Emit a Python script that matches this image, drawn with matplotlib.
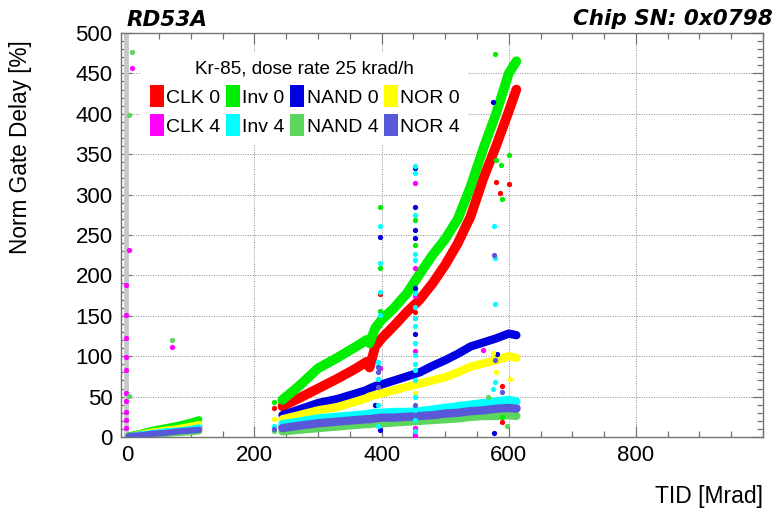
import numpy as np
import matplotlib
matplotlib.use("Agg")
import matplotlib.pyplot as plt
from matplotlib.patches import Patch
from matplotlib.ticker import MultipleLocator, FixedLocator

plt.rcParams['font.family'] = ['Liberation Sans', 'DejaVu Sans']

# ---------------- data ----------------
series_names = ["CLK 0", "Inv 0", "NAND 0", "NOR 0", "CLK 4", "Inv 4", "NAND 4", "NOR 4"]
series_colors = ["#ff0000", "#00ee00", "#0000e0", "#ffff00", "#ff00ff", "#00ffff", "#5cd65c", "#5858d8"]

x_ticks = [0, 200, 400, 600, 800]

tid_early = [2, 20, 40, 60, 80, 100, 113]
tid_main = [244, 270, 300, 330, 360, 376, 381, 390, 400, 420, 440, 460, 480, 500, 520, 540, 560, 580, 600, 612]

clk0_early = [1, 3, 5, 7, 9, 11, 12]
inv0_early = [2, 5, 9, 12, 15, 19, 22]
nand0_early = [1, 3, 6, 8, 10, 12, 14]
nor0_early = [1, 4, 7, 9, 11, 14, 16]
clk4_early = [1, 3, 4, 6, 7, 9, 10]
inv4_early = [1, 3, 5, 7, 8, 10, 12]
nand4_early = [0, 1, 3, 4, 5, 6, 7]
nor4_early = [1, 2, 4, 5, 7, 8, 9]

clk0_main = [38, 48, 60, 72, 85, 93, 86, 112, 122, 138, 155, 170, 190, 213, 240, 273, 320, 360, 403, 430]
inv0_main = [46, 63, 85, 98, 112, 120, 116, 135, 145, 160, 178, 202, 225, 245, 270, 310, 357, 400, 450, 465]
nand0_main = [27, 34, 42, 47, 54, 58, 60, 63, 65, 70, 75, 80, 88, 95, 103, 112, 117, 122, 128, 126]
nor0_main = [22, 27, 33, 37, 44, 48, 50, 52, 54, 58, 62, 66, 70, 74, 80, 87, 91, 95, 100, 98]
clk4_main = [12, 14, 17, 19, 21, 22, 23, 24, 24, 25, 26, 27, 28, 30, 31, 33, 34, 35, 37, 36]
inv4_main = [16, 19, 23, 25, 27, 28, 29, 30, 30, 31, 31, 32, 34, 36, 38, 40, 42, 44, 46, 44]
nand4_main = [7, 9, 11, 13, 15, 16, 16, 17, 17, 18, 19, 20, 21, 22, 23, 25, 26, 26, 27, 26]
nor4_main = [11, 14, 17, 19, 21, 22, 22, 23, 24, 24, 25, 26, 27, 29, 30, 32, 33, 35, 36, 35]

# isolated points (outliers)
clk0_out_x = [231, 398, 452, 452, 580, 601, 586, 590, 590]
clk0_out_y = [36, 177, 147, 155, 316, 313, 302, 63, 18]
inv0_out_x = [231, 398, 398, 398, 452, 452, 452, 580, 588, 590, 601, 578, 590]
inv0_out_y = [43, 285, 209, 156, 268, 238, 180, 343, 337, 295, 349, 474, 25]
nand0_out_x = [398, 389, 398, 452, 452, 452, 452, 452, 452, 575, 582, 577]
nand0_out_y = [248, 40, 9, 333, 285, 256, 246, 184, 128, 414, 103, 5]
nor0_out_x = [231, 576, 580, 602, 452]
nor0_out_y = [22, 104, 80, 72, 55]
clk4_out_x = [3, -2, -2, -2, -2, -2, -2, -2, -2, -2, -2, 8, 70, 452, 452, 452, 452, 452, 452, 398, 559]
clk4_out_y = [231, 188, 151, 122, 99, 83, 54, 44, 31, 21, 11, 457, 112, 314, 209, 174, 106, 11, 2, 85, 108]
inv4_out_x = [231, 398, 398, 398, 398, 394, 394, 394, 394, 394,
              452, 452, 452, 452, 452, 452, 452, 452, 452, 452, 452, 452, 452, 452, 452, 452, 452, 452,
              577, 579, 579, 578, 576]
inv4_out_y = [13, 261, 215, 179, 151, 93, 88, 72, 40, 13,
              335, 327, 275, 227, 219, 178, 161, 147, 137, 116, 101, 90, 83, 70, 50, 33, 21, 8,
              261, 222, 165, 68, 59]
nand4_out_x = [231, 8, 3, 3, 70, 568, 598]
nand4_out_y = [7, 477, 398, 51, 120, 49, 14]
nor4_out_x = [231, 394, 394, 394, 577, 578, 590, 452]
nor4_out_y = [10, 87, 80, 62, 225, 95, 56, 40]

early = [clk0_early, inv0_early, nand0_early, nor0_early, clk4_early, inv4_early, nand4_early, nor4_early]
main = [clk0_main, inv0_main, nand0_main, nor0_main, clk4_main, inv4_main, nand4_main, nor4_main]
outs = [(clk0_out_x, clk0_out_y), (inv0_out_x, inv0_out_y), (nand0_out_x, nand0_out_y),
        (nor0_out_x, nor0_out_y), (clk4_out_x, clk4_out_y), (inv4_out_x, inv4_out_y),
        (nand4_out_x, nand4_out_y), (nor4_out_x, nor4_out_y)]

# ---------------- figure ----------------
fig = plt.figure(figsize=(7.8, 5.12), dpi=100)
L, R, B, T = 121, 763, 437, 33
W, H = 780, 512
ax = fig.add_axes([L / W, 1 - B / H, (R - L) / W, (B - T) / H])

ax.set_xlim(-10, 1000)
ax.set_ylim(0, 500)

ax.axvline(-1.5, color="#c8c8c8", lw=3.5, zorder=1)

main_lw = [7, 7, 6, 6, 6, 6, 6, 6]
for i, name in enumerate(series_names):
    c = series_colors[i]
    ax.plot(tid_early, early[i], color=c, lw=4.5, solid_capstyle="round", solid_joinstyle="round", zorder=3 + i * 0.1)
    ax.plot(tid_main, main[i], color=c, lw=main_lw[i], solid_capstyle="round", solid_joinstyle="round", zorder=3 + i * 0.1)
    ox, oy = outs[i]
    ax.plot(ox, oy, ls="none", marker="o", ms=3.8, mec="none", mfc=c, zorder=4 + i * 0.1)

# axes style (ROOT-like)
gray = "0.45"
for s in ax.spines.values():
    s.set_color(gray)
    s.set_linewidth(1.0)
ax.xaxis.set_major_locator(FixedLocator(x_ticks))
ax.xaxis.set_minor_locator(MultipleLocator(50))
ax.yaxis.set_major_locator(MultipleLocator(50))
ax.yaxis.set_minor_locator(MultipleLocator(10))
ax.tick_params(which="both", direction="in", top=True, right=True, color=gray, width=0.9)
ax.tick_params(which="major", length=8, labelsize=16, pad=6)
ax.tick_params(which="minor", length=4.5)
ax.grid(True, which="major", color="0.55", linestyle=(0, (1, 1.5)), linewidth=0.7, zorder=0)
ax.set_axisbelow(True)

# labels
fig.text(21 / W, 1 - 40 / H, "Norm Gate Delay [%]", rotation=90, ha="center", va="top", fontsize=16.3)
fig.text(763 / W, 1 - 497 / H, "TID [Mrad]", ha="right", va="center", fontsize=16.5)
fig.text(127 / W, 1 - 26 / H, "RD53A", ha="left", va="baseline", fontsize=15.5,
         family="DejaVu Sans", fontweight="bold", fontstyle="oblique")
fig.text(773 / W, 1 - 25 / H, "Chip SN: 0x0798", ha="right", va="baseline", fontsize=15.5,
         family="DejaVu Sans", fontweight="bold", fontstyle="oblique")

# legend
handles = [Patch(facecolor=series_colors[i], edgecolor="none") for i in range(8)]
order = [0, 4, 1, 5, 2, 6, 3, 7]
leg = ax.legend([handles[i] for i in order], [series_names[i] for i in order], ncol=4,
                loc="upper left", bbox_to_anchor=(0.031, 0.953), frameon=True, fancybox=False,
                framealpha=1, edgecolor="none", fontsize=14, title="Kr-85, dose rate 25 krad/h",
                title_fontsize=13.6, handlelength=0.72, handleheight=1.36, handletextpad=0.13,
                columnspacing=0.28, borderpad=0.45, labelspacing=0.38, borderaxespad=0)
leg.set_zorder(10)

fig.savefig("out.png", dpi=100)
